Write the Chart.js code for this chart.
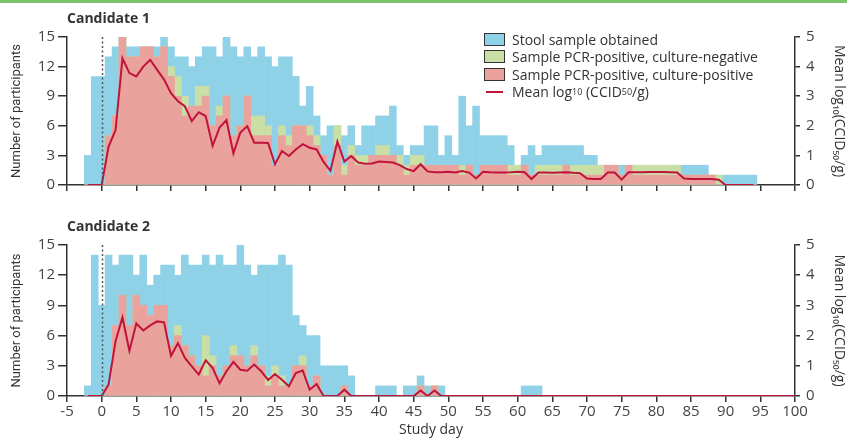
<!DOCTYPE html>
<html>
<head>
<meta charset="utf-8">
<script src="https://cdn.jsdelivr.net/npm/chart.js@4.4.1/dist/chart.umd.min.js"></script>
<style>
  body { margin: 0; background: #fff; width: 847px; height: 440px; overflow: hidden; position: relative; font-family: 'Open Sans', sans-serif; color: #333; }
  .frame { position: absolute; left: 0; top: 0; width: 847px; height: 3px; background: #7cc46c; }
  canvas { position: absolute; left: 0; }
  #chart1 { top: 0; }
  #chart2 { top: 200px; }
  .panel-title { position: absolute; left: 67px; font-weight: bold; font-size: 14px; line-height: 16px; }
  .legend { position: absolute; left: 484px; top: 31px; font-size: 14px; line-height: 17.3px; }
  .legend div { display: flex; align-items: center; white-space: nowrap; }
  .legend .box { width: 19px; height: 11px; border: 1px solid #333; margin-right: 7px; }
  .legend .ln { width: 17px; height: 2px; background: #c0143c; margin: 0 9px 0 2px; }
  .legend sub { font-size: 9px; line-height: 0; }
</style>
</head>
<body>
<div class="frame"></div>
<canvas id="chart1" width="847" height="200"></canvas>
<canvas id="chart2" width="847" height="240"></canvas>
<div class="panel-title" style="top:10px">Candidate 1</div>
<div class="panel-title" style="top:218px">Candidate 2</div>
<div class="legend">
  <div><span class="box" style="background:#8fd2e8"></span>Stool sample obtained</div>
  <div><span class="box" style="background:#c9dfa5"></span>Sample PCR-positive, culture-negative</div>
  <div><span class="box" style="background:#e9a29c"></span>Sample PCR-positive, culture-positive</div>
  <div><span class="ln"></span>Mean log<sub>10</sub>&nbsp;(CCID<sub>50</sub>/g)</div>
</div>
<script>
// study days (x categories)
function dayRange(first, last) {
    const out = [];
    for (let d = first; d <= last; d++) out.push(d);
    return out;
}
const days1 = dayRange(-2, 94);
const days2 = dayRange(-2, 63);
const lineDays2 = dayRange(-2, 49);
const lineEnd2 = { day: 100, value: 0 };

// Candidate 1, days -2..94
const stool1 = [3, 11, 11, 13, 14, 15, 14, 14, 14, 14, 14, 15, 14, 13, 13, 12, 13, 14, 14, 13,
    15, 14, 13, 14, 13, 14, 13, 12, 13, 13, 11, 8, 10, 7, 5, 6, 6, 5, 6, 4,
    6, 6, 7, 7, 8, 4, 3, 4, 4, 6, 6, 3, 5, 3, 9, 6, 8, 5, 5, 5,
    5, 4, 2, 3, 4, 3, 4, 4, 4, 4, 4, 4, 3, 3, 2, 2, 2, 2, 2, 2,
    2, 2, 2, 2, 2, 2, 2, 2, 2, 2, 1, 1, 1, 1, 1, 1, 1];
const pcrNeg1 = [0, 0, 0, 5, 7, 15, 13, 13, 14, 14, 13, 14, 12, 11, 9, 8, 10, 10, 6, 8,
    9, 5, 6, 9, 7, 7, 6, 2, 6, 5, 6, 6, 6, 5, 3, 1, 6, 2, 4, 3,
    3, 3, 4, 4, 3, 3, 2, 3, 3, 2, 2, 2, 2, 2, 2, 2, 1, 2, 2, 2,
    2, 2, 2, 2, 1, 2, 2, 2, 2, 2, 2, 2, 2, 2, 2, 2, 2, 1, 2, 2,
    2, 2, 2, 2, 2, 2, 1, 1, 1, 1, 1, 1, 0, 0, 0, 0, 0];
const pcrPos1 = [0, 0, 0, 5, 7, 15, 13, 13, 14, 14, 13, 14, 11, 9, 7, 8, 8, 9, 6, 7,
    9, 5, 6, 9, 5, 5, 5, 2, 5, 4, 6, 6, 5, 4, 3, 1, 4, 1, 3, 2,
    2, 3, 3, 3, 3, 2, 1, 2, 2, 2, 2, 2, 2, 2, 1, 2, 1, 2, 2, 2,
    2, 1, 1, 2, 1, 1, 1, 1, 1, 2, 1, 1, 1, 1, 1, 2, 2, 1, 2, 1,
    1, 1, 1, 1, 1, 1, 1, 1, 1, 1, 1, 0, 0, 0, 0, 0, 0];
const mean1 = [0, 0, 0, 1.3, 1.85, 4.28, 3.78, 3.67, 4.0, 4.23, 3.89, 3.56, 3.1, 2.83, 2.66, 2.16, 2.46, 2.33, 1.32, 1.94,
    2.19, 1.07, 1.77, 1.99, 1.43, 1.43, 1.42, 0.7, 1.15, 0.98, 1.2, 1.38, 1.26, 1.2, 0.78, 0.48, 1.47, 0.79, 0.98, 0.76,
    0.72, 0.73, 0.79, 0.78, 0.76, 0.67, 0.54, 0.47, 0.7, 0.46, 0.43, 0.43, 0.45, 0.42, 0.47, 0.42, 0.22, 0.45, 0.43, 0.42,
    0.42, 0.43, 0.45, 0.43, 0.2, 0.42, 0.42, 0.41, 0.42, 0.43, 0.41, 0.4, 0.22, 0.2, 0.2, 0.42, 0.42, 0.18, 0.43, 0.43,
    0.43, 0.44, 0.44, 0.44, 0.43, 0.42, 0.22, 0.2, 0.2, 0.2, 0.2, 0.18, 0, 0, 0, 0, 0];

// Candidate 2, days -2..63
const stool2 = [1, 14, 9, 14, 13, 14, 14, 12, 14, 11, 12, 13, 13, 12, 14, 13, 13, 14, 13, 14,
    13, 13, 15, 13, 12, 13, 13, 13, 14, 13, 8, 7, 6, 6, 3, 3, 3, 3, 2, 0,
    0, 0, 1, 1, 1, 0, 1, 1, 2, 1, 1, 1, 0, 0, 0, 0, 0, 0, 0, 0,
    0, 0, 0, 1, 1, 1];
const pcrNeg2 = [0, 0, 0, 1, 7, 10, 7, 10, 9, 8, 9, 9, 5, 7, 5, 4, 3, 6, 4, 2,
    3, 5, 4, 3, 5, 3, 2, 3, 2, 1, 3, 4, 1, 2, 0, 0, 0, 1, 0, 0,
    0, 0, 0, 0, 0, 0, 0, 0, 1, 0, 1, 0, 0, 0, 0, 0, 0, 0, 0, 0,
    0, 0, 0, 0, 0, 0];
const pcrPos2 = [0, 0, 0, 1, 7, 10, 7, 10, 9, 8, 9, 9, 5, 6, 5, 4, 3, 2, 3, 2,
    3, 4, 4, 3, 4, 3, 1, 2, 1, 1, 3, 3, 1, 2, 0, 0, 0, 1, 0, 0,
    0, 0, 0, 0, 0, 0, 0, 0, 1, 0, 1, 0, 0, 0, 0, 0, 0, 0, 0, 0,
    0, 0, 0, 0, 0, 0];
const mean2 = [0, 0, 0, 0.38, 1.81, 2.6, 1.5, 2.4, 2.17, 2.34, 2.47, 2.44, 1.33, 1.75, 1.26, 0.98, 0.71, 1.18, 0.93, 0.42,
    0.82, 1.13, 0.87, 0.84, 1.04, 0.82, 0.53, 0.73, 0.54, 0.32, 0.76, 0.84, 0.21, 0.4, 0, 0, 0, 0.21, 0, 0,
    0, 0, 0, 0, 0, 0, 0, 0, 0.18, 0, 0.18, 0];

const leftTicks = [0, 3, 6, 9, 12, 15];
const rightTicks = [0, 1, 2, 3, 4, 5];

const colors = { stool: '#8fd2e8', neg: '#c9dfa5', pos: '#e9a29c', line: '#c0143c', axis: '#333' };
const fontFamily = "'Open Sans', 'Noto Sans', sans-serif";

function pts(days, vals) {
    return vals.map((v, i) => ({ x: days[i], y: v }));
}

// Dotted vertical line at day 0
const dayZeroLine = {
    id: 'dayZeroLine',
    afterDatasetsDraw(chart) {
        const { ctx, chartArea, scales } = chart;
        const x = Math.round(scales.x.getPixelForValue(0)) + 0.5;
        ctx.save();
        ctx.strokeStyle = '#555';
        ctx.lineWidth = 1.5;
        ctx.setLineDash([2, 2.5]);
        ctx.beginPath();
        ctx.moveTo(x, chartArea.top);
        ctx.lineTo(x, chartArea.bottom);
        ctx.stroke();
        ctx.restore();
    }
};

function makeChart(id, panel) {
    const barBase = { type: 'bar', grouped: false, borderWidth: 0, barPercentage: 1, categoryPercentage: 1, yAxisID: 'y' };
    const lineData = pts(panel.lineDays, panel.mean);
    if (panel.lineEnd) lineData.push({ x: panel.lineEnd.day, y: panel.lineEnd.value });

    return new Chart(document.getElementById(id).getContext('2d'), {
        type: 'bar',
        data: {
            datasets: [
                { ...barBase, label: 'Stool sample obtained', data: pts(panel.days, panel.stool), backgroundColor: colors.stool, order: 4 },
                { ...barBase, label: 'Sample PCR-positive, culture-negative', data: pts(panel.days, panel.neg), backgroundColor: colors.neg, order: 3 },
                { ...barBase, label: 'Sample PCR-positive, culture-positive', data: pts(panel.days, panel.pos), backgroundColor: colors.pos, order: 2 },
                {
                    type: 'line', label: 'Mean log10 (CCID50/g)', data: lineData, yAxisID: 'y2',
                    borderColor: colors.line, borderWidth: 2, pointRadius: 0, tension: 0, order: 1
                }
            ]
        },
        options: {
            responsive: false,
            animation: false,
            devicePixelRatio: 1,
            layout: { padding: { top: panel.padTop, left: 0, right: 0, bottom: 0 } },
            plugins: { legend: { display: false }, tooltip: { enabled: false } },
            scales: {
                x: {
                    type: 'linear', min: -5, max: 100, offset: false,
                    grid: { display: true, drawOnChartArea: false, drawTicks: true, tickLength: 6, color: colors.axis, lineWidth: 1.5, offset: false },
                    border: { display: true, color: colors.axis, width: 1.5 },
                    ticks: { display: panel.showX, stepSize: 5, autoSkip: false, maxRotation: 0, padding: 1, color: '#444', font: { size: 15, family: fontFamily } },
                    title: { display: panel.showX, text: 'Study day', color: '#333', font: { size: 14, family: fontFamily }, padding: { top: 0, bottom: 2 } },
                    afterFit: s => { s.height = panel.xHeight; }
                },
                y: {
                    position: 'left', min: 0, max: 15,
                    afterBuildTicks: s => { s.ticks = leftTicks.map(v => ({ value: v })); },
                    grid: { display: true, drawOnChartArea: false, drawTicks: true, tickLength: 9, color: colors.axis, lineWidth: 1.5 },
                    border: { display: true, color: colors.axis, width: 1.5 },
                    ticks: { padding: 3, color: '#444', font: { size: 15, family: fontFamily } },
                    title: { display: true, text: 'Number of participants', color: '#333', font: { size: 13, family: "'Liberation Sans Narrow', Roboto, sans-serif" }, padding: { top: 9, bottom: 0 } },
                    afterFit: s => { s.width = 67; }
                },
                y2: {
                    position: 'right', min: 0, max: 5,
                    afterBuildTicks: s => { s.ticks = rightTicks.map(v => ({ value: v })); },
                    grid: { display: true, drawOnChartArea: false, drawTicks: true, tickLength: 5, color: colors.axis, lineWidth: 1.5 },
                    border: { display: true, color: colors.axis, width: 1.5 },
                    ticks: { padding: 6, color: '#444', font: { size: 15, family: fontFamily } },
                    title: { display: true, text: 'Mean log₁₀(CCID₅₀/g)', color: '#333', font: { size: 14, family: fontFamily }, padding: { top: 0, bottom: 3 } },
                    afterFit: s => { s.width = 52; }
                }
            }
        },
        plugins: [dayZeroLine]
    });
}

makeChart('chart1', {
    days: days1, stool: stool1, neg: pcrNeg1, pos: pcrPos1,
    lineDays: days1, mean: mean1, lineEnd: null,
    padTop: 37, xHeight: 14, showX: false
});
makeChart('chart2', {
    days: days2, stool: stool2, neg: pcrNeg2, pos: pcrPos2,
    lineDays: lineDays2, mean: mean2, lineEnd: lineEnd2,
    padTop: 45, xHeight: 44, showX: true
});
</script>
</body>
</html>
